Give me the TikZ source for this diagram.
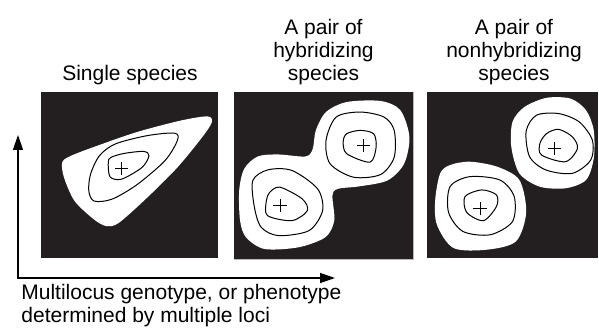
\documentclass[tikz,border=0pt]{standalone}
\usepackage{fontspec}
\setmainfont{Liberation Sans}
\usetikzlibrary{arrows.meta}
\newcommand{\centreCross}[1]{\draw[contour] (#1) +(-3.3pt,0) -- +(3.3pt,0) (#1) +(0,-3.3pt) -- +(0,3.3pt);}
\begin{document}
\begin{tikzpicture}[x=0.5pt,y=0.5pt,
  contour/.style={line width=0.5pt},
  blob/.style={fill=white},
  lab/.style={font=\fontsize{10.5pt}{11.5pt}\selectfont,align=center,inner sep=0pt},
  axis/.style={line width=0.65pt,{Triangle[length=7.5pt,width=5pt]}-{Triangle[length=7.5pt,width=5pt]}}]
\definecolor{panelBlack}{HTML}{231F20}
\useasboundingbox (0,0) rectangle (599,332);
\fill[panelBlack] (41,74) rectangle (218,240);
\fill[panelBlack] (234,73) rectangle (413,240);
\draw[gray!55,line width=0.5pt] (413,240) -- (413,73) -- (234,73);
\fill[panelBlack] (427,74) rectangle (598,240);
\begin{scope}[shift={(41,74)},x=88.5pt,y=83pt]
\fill[blob] plot[smooth cycle] coordinates {(0.12,0.576) (0.13,0.485) (0.19,0.343) (0.30,0.232) (0.37,0.192) (0.44,0.212) (0.60,0.364) (0.77,0.545) (0.91,0.727) (0.965,0.818) (0.94,0.853) (0.79,0.828) (0.54,0.758) (0.32,0.677) (0.17,0.616)};
\draw[contour] plot[smooth cycle] coordinates {(0.28,0.505) (0.27,0.404) (0.30,0.343) (0.40,0.354) (0.54,0.44) (0.70,0.586) (0.77,0.707) (0.755,0.752) (0.60,0.737) (0.42,0.687) (0.33,0.616)};
\draw[contour] plot[smooth cycle] coordinates {(0.38,0.576) (0.39,0.489) (0.455,0.475) (0.57,0.545) (0.61,0.616) (0.58,0.642) (0.47,0.63) (0.395,0.606)};
\centreCross{0.455,0.541}
\end{scope}
\begin{scope}[shift={(234,73)},x=89.5pt,y=83.5pt]
\fill[blob] plot[smooth cycle] coordinates {(0.067,0.13) (0.17,0.06) (0.36,0.07) (0.51,0.13) (0.56,0.23) (0.55,0.38) (0.58,0.42) (0.70,0.435) (0.857,0.47) (0.95,0.57) (0.98,0.73) (0.93,0.89) (0.82,0.946) (0.63,0.94) (0.514,0.88) (0.457,0.77) (0.44,0.66) (0.40,0.614) (0.248,0.626) (0.133,0.614) (0.057,0.54) (0.029,0.41) (0.034,0.23)};
\draw[contour] plot[smooth cycle] coordinates {(0.514,0.71) (0.537,0.57) (0.667,0.49) (0.819,0.506) (0.895,0.61) (0.895,0.77) (0.838,0.85) (0.705,0.88) (0.571,0.85)};
\draw[contour] plot[smooth cycle] coordinates {(0.61,0.70) (0.63,0.63) (0.76,0.58) (0.794,0.67) (0.78,0.75) (0.705,0.77) (0.629,0.75)};
\draw[contour] plot[smooth cycle] coordinates {(0.105,0.47) (0.114,0.31) (0.152,0.19) (0.248,0.14) (0.419,0.17) (0.495,0.29) (0.467,0.42) (0.324,0.53) (0.19,0.534)};
\draw[contour] plot[smooth cycle] coordinates {(0.181,0.35) (0.187,0.26) (0.324,0.23) (0.41,0.29) (0.381,0.36) (0.257,0.43) (0.2,0.40)};
\centreCross{0.724,0.68}
\centreCross{0.257,0.32}
\end{scope}
\begin{scope}[shift={(427,74)},x=85.5pt,y=83pt]
\fill[blob] plot[smooth cycle] coordinates {(0.50,0.82) (0.493,0.67) (0.54,0.51) (0.658,0.43) (0.81,0.42) (0.93,0.47) (0.975,0.60) (0.975,0.77) (0.93,0.89) (0.84,0.96) (0.70,0.965) (0.57,0.91)};
\draw[contour] plot[smooth cycle] coordinates {(0.58,0.765) (0.60,0.61) (0.696,0.53) (0.85,0.51) (0.957,0.59) (0.967,0.71) (0.89,0.82) (0.77,0.87) (0.64,0.86)};
\draw[contour] plot[smooth cycle] coordinates {(0.66,0.69) (0.67,0.62) (0.81,0.58) (0.88,0.66) (0.85,0.73) (0.77,0.775) (0.70,0.75)};
\fill[blob] plot[smooth cycle] coordinates {(0.077,0.51) (0.048,0.35) (0.058,0.20) (0.155,0.06) (0.35,0.05) (0.52,0.10) (0.58,0.275) (0.54,0.47) (0.41,0.55) (0.25,0.58) (0.135,0.56)};
\draw[contour] plot[smooth cycle] coordinates {(0.135,0.43) (0.126,0.275) (0.21,0.16) (0.37,0.14) (0.50,0.22) (0.51,0.37) (0.426,0.47) (0.25,0.49)};
\draw[contour] plot[smooth cycle] coordinates {(0.222,0.37) (0.232,0.275) (0.33,0.225) (0.406,0.31) (0.406,0.38) (0.32,0.41)};
\centreCross{0.745,0.66}
\centreCross{0.31,0.30}
\end{scope}
\node[lab,anchor=south] (lblSingle) at (130,247) {Single species};
\node[lab,anchor=south] (lblHybrid) at (323.5,247) {A pair of\\hybridizing\\species};
\node[lab,anchor=south] (lblNonhybrid) at (514,247) {A pair of\\nonhybridizing\\species};
\coordinate (origin) at (18,54);
\coordinate (yTip) at (18,197);
\coordinate (xTip) at (335,54);
\draw[axis] (yTip) -- (origin) -- (xTip);
\node[lab,anchor=south west,align=left] (lblAxis) at (21,4.6) {Multilocus genotype, or phenotype\\determined by multiple loci};
\end{tikzpicture}
\end{document}
